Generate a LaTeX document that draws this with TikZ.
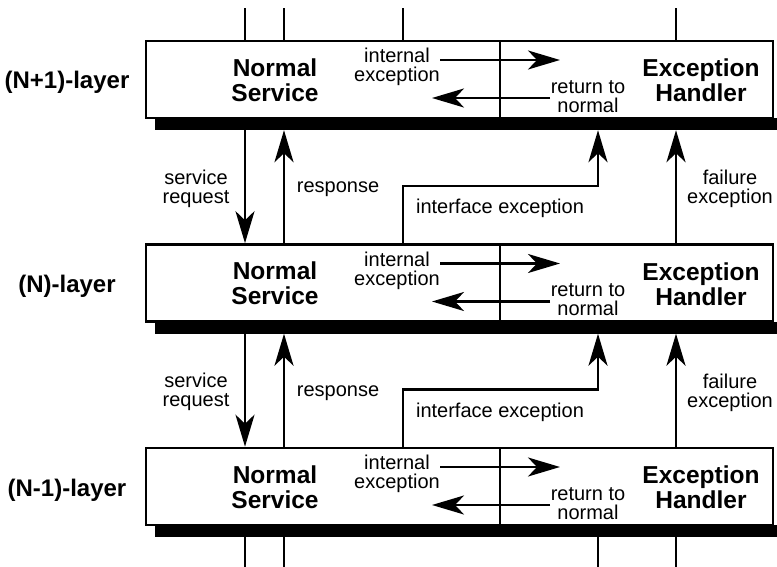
\documentclass[tikz,border=0pt]{standalone}
\usepackage{fontspec}
\setmainfont{Liberation Sans}
\usetikzlibrary{arrows.meta}
\begin{document}
\begin{tikzpicture}[x=1pt,y=-1pt,
  boxpart/.style={draw, line width=2.6pt, minimum height=77pt, inner sep=0pt, fill=white},
  shadowbar/.style={fill=black, minimum width=622pt, minimum height=12pt, inner sep=0pt},
  bigtext/.style={inner sep=0pt, align=center, font=\fontsize{24.5}{25}\selectfont\bfseries},
  smalltext/.style={inner sep=0pt, align=center, font=\fontsize{20}{19}\selectfont},
  layertext/.style={inner sep=0pt, font=\fontsize{24}{25}\selectfont\bfseries},
  wire/.style={line width=2.8pt},
  arr/.style={line width=2.8pt, -{Stealth[length=32pt,width=19pt,inset=9pt]}}
]
\useasboundingbox (0,0) rectangle (777,567);

% x positions of the vertical channels
\coordinate (sr)  at (245,0);
\coordinate (rs)  at (284,0);
\coordinate (ifa) at (403,0);
\coordinate (ifb) at (598,0);
\coordinate (fe)  at (676,0);
\coordinate (topend) at (0,8);
\coordinate (botend) at (0,570);

% one layer: normal-service part, exception-handler part, drop shadow
\foreach \i/\T/\lab in {1/41/{(N+1)-layer}, 2/244.5/{(N)-layer}, 3/448/{(N-1)-layer}} {
  \node[boxpart, minimum width=354pt] (ns\i) at (323,\T+38.5) {};
  \node[boxpart, minimum width=273pt] (eh\i) at (636.5,\T+38.5) {};
  \node[shadowbar] (sh\i) at (466,\T+83) {};
  \node[layertext, anchor=base] (lay\i) at (67,\T+48) {\lab};
  \node[bigtext] (nst\i) at (275,\T+39) {Normal\\Service};
  \node[bigtext] (eht\i) at (701,\T+39.5) {Exception\\Handler};
  \node[smalltext] (iet\i) at (397,\T+26) {internal\\exception};
  \node[smalltext] (rnt\i) at (588,\T+55.5) {return to\\normal};
  \coordinate (ia\i) at (440,\T+19);
  \coordinate (ib\i) at (560,\T+19);
  \coordinate (ra\i) at (550,\T+57);
  \coordinate (rb\i) at (432,\T+57);
  \draw[arr] (ia\i) -- (ib\i);
  \draw[arr] (ra\i) -- (rb\i);
}

% connections between a layer and the one beneath it
\foreach \i/\j/\T in {1/2/41, 2/3/244.5} {
  \draw[arr] (sh\i.south -| sr) -- (ns\j.north -| sr);
  \draw[arr] (ns\j.north -| rs) -- (sh\i.south -| rs);
  \coordinate (ifk\i) at (598,\T+145);
  \draw[arr] (ns\j.north -| ifa) |- (ifk\i) -- (sh\i.south -| ifb);
  \draw[arr] (eh\j.north -| fe) -- (sh\i.south -| fe);
  \node[smalltext] (srt\i) at (196,\T+147.5) {service\\request};
  \node[smalltext] (rst\i) at (338,\T+148.5) {response};
  \node[smalltext] (ift\i) at (500,\T+167.5) {interface exception};
  \node[smalltext] (fet\i) at (730,\T+148) {failure\\exception};
}

% channels leaving the picture above and below
\draw[wire] (ns1.north -| sr)  -- (sr |- topend);
\draw[wire] (ns1.north -| rs)  -- (rs |- topend);
\draw[wire] (ns1.north -| ifa) -- (ifa |- topend);
\draw[wire] (eh1.north -| fe)  -- (fe |- topend);
\draw[wire] (sh3.south -| sr)  -- (sr |- botend);
\draw[wire] (sh3.south -| rs)  -- (rs |- botend);
\draw[wire] (sh3.south -| ifb) -- (ifb |- botend);
\draw[wire] (sh3.south -| fe)  -- (fe |- botend);
\end{tikzpicture}
\end{document}
